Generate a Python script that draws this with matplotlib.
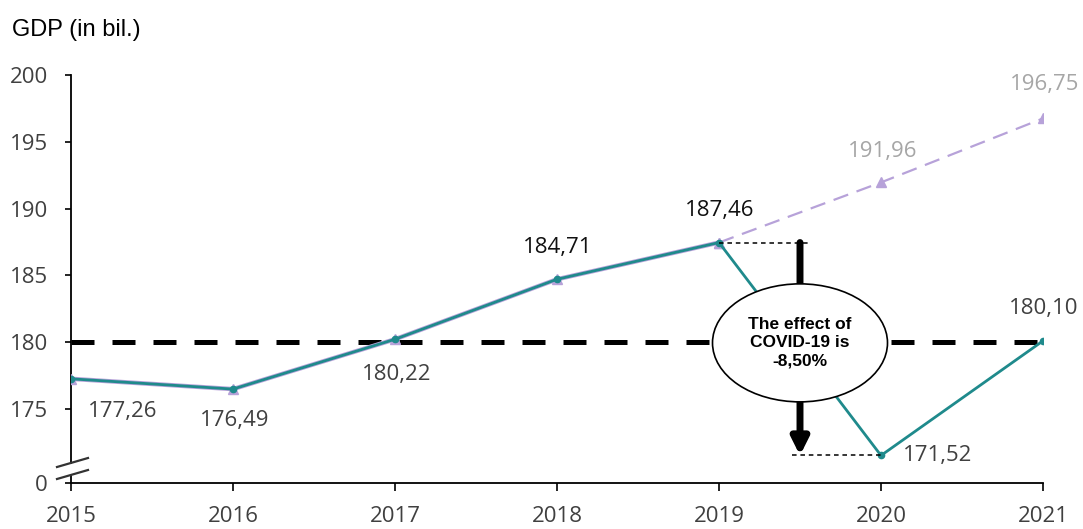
import matplotlib.pyplot as plt
from matplotlib.patches import Ellipse
import numpy as np

years = [2015, 2016, 2017, 2018, 2019, 2020, 2021]
actual = [177.26, 176.49, 180.22, 184.71, 187.46, 171.52, 180.10]
no_covid = [177.26, 176.49, 180.22, 184.71, 187.46, 191.96, 196.75]
ref_level = 180
y_ticks = [175, 180, 185, 190, 195, 200]
effect_text = "The effect of\nCOVID-19 is\n-8,50%"

teal = '#1F8A8C'
purple = '#B7A2D9'
lab_col = '#404040'
fc_col = '#A6A6A6'

plt.rcParams['font.family'] = ['Open Sans', 'DejaVu Sans']

fig = plt.figure(figsize=(10.83, 5.29), dpi=100)
ax = fig.add_axes([71/1083, 46/529, 972/1083, 408/529])

ymin = 175 - 74/13.36
ax.set_xlim(2015, 2021)
ax.set_ylim(ymin, 200)

# reference level
ax.plot([years[0], years[-1]], [ref_level, ref_level], color='black', lw=3.6,
        dashes=(4.6, 3.6), zorder=2, solid_capstyle='butt', dash_capstyle='butt')

# no-covid path (solid up to 2019, dashed after)
ax.plot(years[:5], no_covid[:5], color=purple, lw=3.2, marker='^', ms=7, zorder=3)
ax.plot(years[4:], no_covid[4:], color=purple, lw=1.6, dashes=(7, 4), marker='^', ms=7, zorder=3)

# actual path
ax.plot(years, actual, color=teal, lw=2.0, marker='o', ms=4.5, zorder=4)

# value labels
offs_act = [(52, -33), (2, -31), (2, -35), (1, 32), (1, 32), (57, 0), (1, 32)]
for i, (x, v) in enumerate(zip(years, actual)):
    dark = i in (3, 4)
    ax.annotate(f"{v:.2f}".replace('.', ','), (x, v), xytext=offs_act[i],
                textcoords='offset pixels', ha='center', va='center',
                fontsize=16, color='#111111' if dark else lab_col,
                fontweight='medium' if dark else 'normal', zorder=7,
                annotation_clip=False)
offs_fc = [(2, 31), (2, 34)]
for j, (x, v) in enumerate(zip(years[5:], no_covid[5:])):
    ax.annotate(f"{v:.2f}".replace('.', ','), (x, v), xytext=offs_fc[j],
                textcoords='offset pixels', ha='center', va='center',
                fontsize=16, color=fc_col, zorder=7, annotation_clip=False)

# covid effect marker
xm = 2019.5
ax.plot([years[4], 2019.57], [actual[4], actual[4]], color='black', lw=1.1,
        dashes=(3, 2.5), zorder=4)
ax.plot([2019.45, years[5]], [actual[5], actual[5]], color='black', lw=1.1,
        dashes=(3, 2.5), zorder=4)
ax.annotate('', xy=(xm, actual[5]), xytext=(xm, actual[4]),
            arrowprops=dict(arrowstyle='-|>,head_width=0.5,head_length=1.0',
                            lw=5, color='black', shrinkA=0, shrinkB=0),
            zorder=5)
ell = Ellipse((xm, ref_level - 0.05), width=175/162, height=118/13.36,
              facecolor='white', edgecolor='black', lw=1.2, zorder=6)
ax.add_patch(ell)
ax.text(xm, ref_level - 0.05, effect_text, ha='center', va='center',
        fontsize=12.5, fontweight='bold', family=['Liberation Sans', 'DejaVu Sans'],
        linespacing=1.25, zorder=7)

# axes styling
ax.spines['top'].set_visible(False)
ax.spines['right'].set_visible(False)
ax.spines['left'].set_bounds(175 - 54/13.36, 200)
ax.spines['left'].set_linewidth(1.3)
ax.spines['bottom'].set_linewidth(1.3)
ax.plot([0, 0], [0, 7/408], transform=ax.transAxes, color='black', lw=1.3,
        clip_on=False, zorder=5)
for dy in (-4.5, 7.5):
    yc = (483 - 470 + dy) / 408
    ax.plot([-14/972, 17/972], [yc - 4.5/408, yc + 4.5/408], transform=ax.transAxes,
            color='#333333', lw=1.6, clip_on=False, zorder=5)

ax.set_yticks([ymin] + y_ticks)
ax.set_yticklabels(['0'] + [str(t) for t in y_ticks])
ax.set_xticks(years)
ax.set_xticklabels([str(y) for y in years])
ax.tick_params(axis='y', direction='out', length=4.5, width=1.2, pad=12,
               labelsize=16, labelcolor=lab_col)
ax.tick_params(axis='x', direction='out', length=5.5, width=1.2, pad=11,
               labelsize=16, labelcolor=lab_col)

fig.text(12/1083, 1 - 30/529, 'GDP (in bil.)', ha='left', va='center',
         fontsize=17, family=['Liberation Sans', 'DejaVu Sans'], color='black')

fig.savefig('out.png', dpi=100)
